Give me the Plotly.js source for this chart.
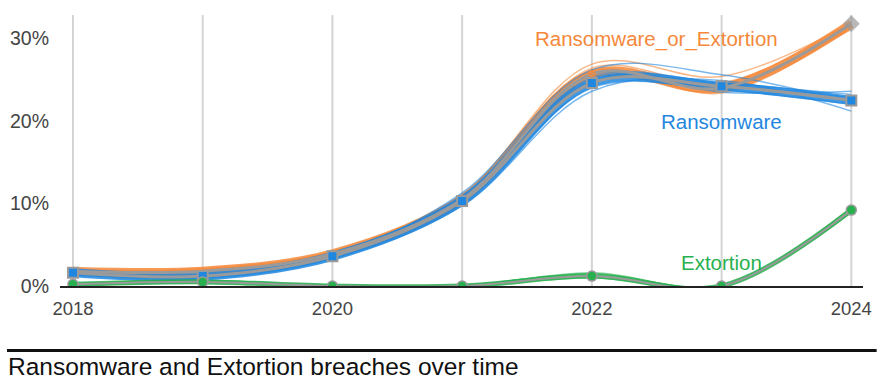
<!DOCTYPE html>
<html><head><meta charset="utf-8">
<script src="https://cdn.plot.ly/plotly-3.0.1.min.js"></script>
<style>html,body{margin:0;padding:0;background:#fff}#chart{width:887px;height:379px}</style>
</head><body><div id="chart"></div>
<script>
var years = [2018, 2019, 2020, 2021, 2022, 2023, 2024];
var yTicks = [0, 10, 20, 30];
var yTickText = ['0%', '10%', '20%', '30%'];

var ransomware = [1.6, 1.2, 3.6, 10.3, 24.6, 24.2, 22.5];
var ransomOrExt = [1.8, 1.8, 3.9, 10.5, 25.7, 24.0, 31.8];
var extortion = [0.2, 0.5, 0.0, 0.0, 1.2, 0.0, 9.2];

// hand-read spread lines around each series
var ransomwareSpread = [
  [1.5, 1.0, 3.4, 10.0, 24.0, 23.8, 22.0],
  [1.8, 1.3, 3.9, 10.9, 25.3, 24.6, 23.2],
  [1.4, 0.9, 3.3, 9.7, 23.6, 24.9, 21.2],
  [1.7, 1.2, 3.8, 11.0, 25.6, 23.5, 23.6],
  [1.6, 1.1, 3.5, 10.5, 24.9, 24.4, 22.8],
  [1.7, 1.3, 3.7, 11.3, 26.2, 25.6, 22.2]
];
var ransomOrExtSpread = [
  [1.9, 2.0, 4.1, 10.8, 26.4, 24.6, 32.0],
  [1.7, 1.6, 3.7, 10.2, 25.2, 23.7, 31.4],
  [2.0, 2.1, 4.2, 11.1, 26.9, 25.4, 31.9],
  [1.6, 1.7, 3.6, 10.0, 24.9, 24.4, 31.1],
  [1.8, 1.9, 4.0, 10.6, 26.0, 23.4, 31.6]
];
var extortionSpread = [
  [0.3, 0.6, 0.1, 0.1, 1.5, 0.1, 9.5],
  [0.1, 0.4, 0.0, 0.0, 1.0, 0.0, 8.9],
  [0.2, 0.7, 0.0, 0.0, 1.6, 0.0, 9.1]
];

var orange = '#f5883a', blue = '#1f87e0', green = '#27b04e', grey = '#9a9a9a';

var traces = [];
function band(spread, main, color, w) {
  traces.push({x: years, y: main, mode: 'lines', line: {shape: 'spline', color: color, width: w}, opacity: 0.85, hoverinfo: 'skip'});
  spread.forEach(function (s) {
    traces.push({x: years, y: s, mode: 'lines', line: {shape: 'spline', color: color, width: 1.5}, opacity: 0.6, hoverinfo: 'skip'});
  });
}
band(ransomOrExtSpread, ransomOrExt, orange, 9);
band(ransomwareSpread, ransomware, blue, 9);
band(extortionSpread, extortion, green, 5);

traces.push({x: years, y: ransomOrExt, mode: 'lines+markers', line: {shape: 'spline', color: grey, width: 3},
  marker: {symbol: ['circle','circle','circle','circle','circle','circle','diamond'], size: [0,0,0,0,8,0,13],
    color: [orange,orange,orange,orange,orange,orange,grey], line: {width: 0}}});
traces.push({x: years, y: ransomware, mode: 'lines+markers', line: {shape: 'spline', color: grey, width: 3},
  marker: {symbol: 'square', size: 10, color: blue, line: {color: grey, width: 2}}});
traces.push({x: years, y: extortion, mode: 'lines+markers', line: {shape: 'spline', color: grey, width: 2},
  marker: {symbol: 'circle', size: 10, color: green, line: {color: grey, width: 1.5}}});

var layout = {
  width: 887, height: 379,
  margin: {l: 60, r: 24, t: 15, b: 93},
  paper_bgcolor: '#fff', plot_bgcolor: '#fff',
  showlegend: false,
  font: {family: 'Liberation Sans, Arial, sans-serif', color: '#444'},
  title: {text: 'Ransomware and Extortion breaches over time', x: 0.009, xanchor: 'left', xref: 'container',
    y: 0.034, yanchor: 'middle', yref: 'container', font: {size: 24.5, color: '#111', family: 'Liberation Sans, Arial, sans-serif'}},
  xaxis: {range: [2017.9, 2024.09], tickvals: years.filter(function(y){return y % 2 === 0;}),
    showgrid: false, zeroline: false, showline: true, linecolor: '#222', linewidth: 1.5,
    ticks: '', tickfont: {size: 18.5, color: '#444'}, ticklabelstandoff: 5, fixedrange: true},
  yaxis: {range: [0, 32.85], tickvals: yTicks, ticktext: yTickText, showgrid: false, zeroline: false,
    showline: false, ticks: '', tickfont: {size: 19.5, color: '#444'}, ticklabelstandoff: 10},
  shapes: years.map(function (yr) {
    return {type: 'line', xref: 'x', yref: 'paper', x0: yr, x1: yr, y0: 0, y1: 1, layer: 'below',
      line: {color: '#d4d4d4', width: 2}};
  }).concat([{type: 'line', xref: 'paper', yref: 'paper', x0: -0.066, x1: 1.017, y0: -0.238, y1: -0.238,
      line: {color: '#111', width: 3}}]),
  annotations: [
    {x: 2022.5, y: 29.9, xref: 'x', yref: 'y', text: 'Ransomware_or_Extortion', showarrow: false, font: {size: 20.5, color: orange}},
    {x: 2023.0, y: 19.9, xref: 'x', yref: 'y', text: 'Ransomware', showarrow: false, font: {size: 20.5, color: blue}},
    {x: 2023.0, y: 2.9, xref: 'x', yref: 'y', text: 'Extortion', showarrow: false, font: {size: 20.5, color: green}}
  ]
};
Plotly.newPlot('chart', traces, layout, {displayModeBar: false, staticPlot: true});
</script></body></html>
